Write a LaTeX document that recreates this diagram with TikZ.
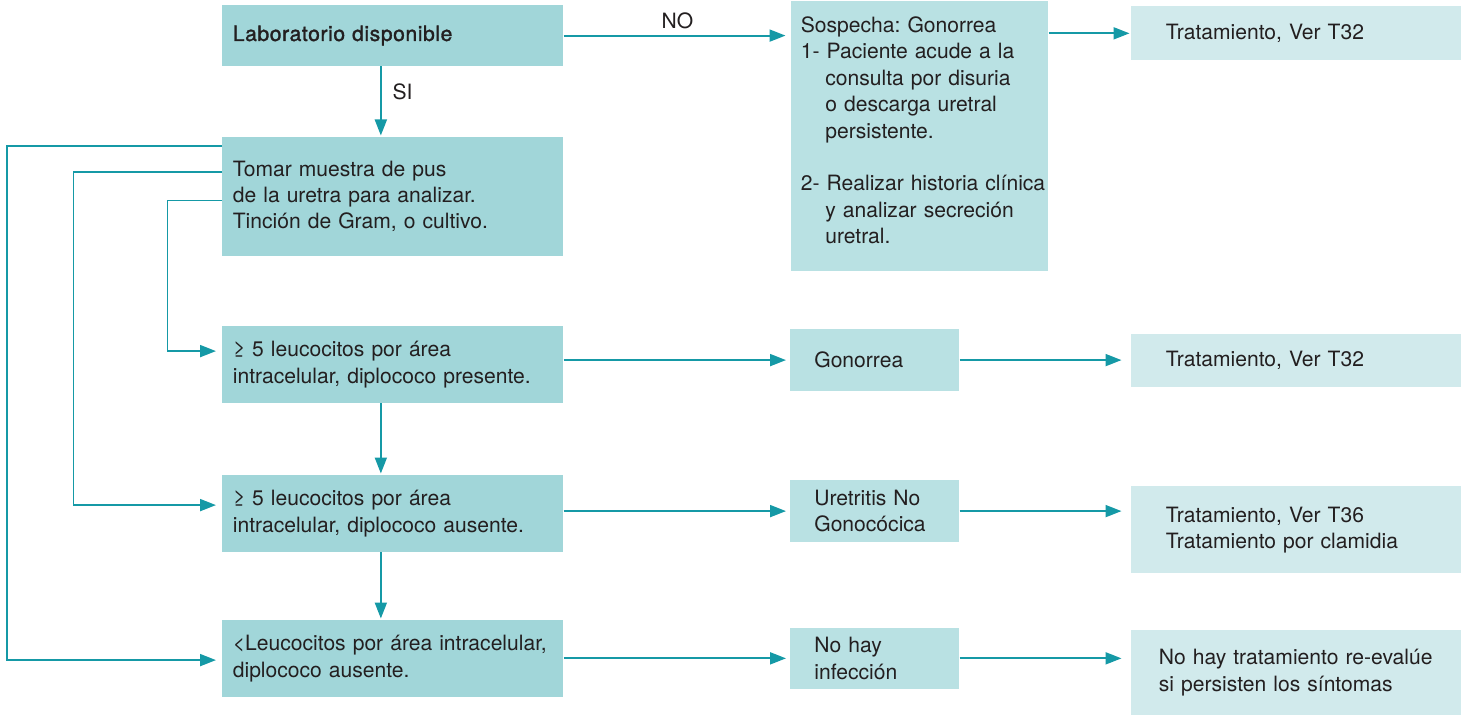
\documentclass[tikz,border=0pt]{standalone}
\usepackage{fontspec}
\setmainfont{TeX Gyre Heros}
\newfontfamily\ugheavy[FakeBold=1.5, LetterSpace=2.8]{TeX Gyre Heros}
\usetikzlibrary{arrows.meta}
\definecolor{ugdark}{HTML}{A1D6D9}
\definecolor{ugmid}{HTML}{B9E1E3}
\definecolor{uglight}{HTML}{D1EAEC}
\definecolor{ugline}{HTML}{1599A6}
\definecolor{ugtext}{HTML}{231F20}
\frenchspacing
\begin{document}
\begin{tikzpicture}[
  ugbox/.style = {anchor=north west, inner ysep=0pt, align=left, text=ugtext,
    font=\fontsize{12}{15}\selectfont},
  ugleft/.style = {ugbox, fill=ugdark, inner xsep=0.21cm, text width=6.40cm, minimum height=#1},
  ugmidbox/.style = {ugbox, fill=ugmid, inner xsep=0.48cm, text width=2.42cm, minimum height=#1},
  ugright/.style = {ugbox, fill=uglight, inner xsep=0.70cm, text width=5.21cm, minimum height=#1},
  ugarrow/.style = {-{Triangle[length=0.32cm, width=0.24cm]}, line width=1.1pt, ugline, shorten >=#1},
  ugarrow/.default = 0.1cm,
  uglbl/.style = {text=ugtext, font=\fontsize{12}{15}\selectfont}
]
  \useasboundingbox (0,0) rectangle (29.22,-14.30);
  % columna izquierda
  \node[ugleft=1.21cm] (lab) at (4.44,-0.10) {\ugheavy Laboratorio disponible};
  \node[ugleft=2.38cm] (tomar) at (4.44,-2.73)
    {Tomar muestra de pus\\de la uretra para analizar.\\Tinción de Gram, o cultivo.};
  \node[ugleft=1.53cm] (pres) at (4.44,-6.52)
    {≥ 5 leucocitos por área\\intracelular, diplococo presente.};
  \node[ugleft=1.53cm] (aus) at (4.44,-9.50)
    {≥ 5 leucocitos por área\\intracelular, diplococo ausente.};
  \node[ugleft=1.53cm] (menos) at (4.44,-12.40)
    {<Leucocitos por área intracelular,\\diplococo ausente.};
  % columna central
  \node[ugbox, fill=ugmid, inner xsep=0.19cm, text width=4.76cm, minimum height=5.40cm] (sosp) at (15.82,-0.02)
    {Sospecha: Gonorrea\\
     1- Paciente acude a la\\
     \hspace*{0.49cm}consulta por disuria\\
     \hspace*{0.49cm}o descarga uretral\\
     \hspace*{0.49cm}persistente.\\[15pt]
     \mbox{2- Realizar historia clínica}\\
     \hspace*{0.49cm}y analizar secreción\\
     \hspace*{0.49cm}uretral.\\[-8pt]\mbox{}};
  \node[ugmidbox=1.23cm] (gon) at (15.80,-6.58) {Gonorrea};
  \node[ugmidbox=1.23cm] (uret) at (15.80,-9.60) {Uretritis No\\Gonocócica};
  \node[ugmidbox=1.22cm] (inf) at (15.80,-12.55) {No hay\\infección};
  % columna derecha
  \node[ugright=1.08cm] (t32a) at (22.61,-0.12) {Tratamiento, Ver T32};
  \node[ugright=1.07cm] (t32b) at (22.61,-6.67) {Tratamiento, Ver T32};
  \node[ugright=1.74cm] (t36) at (22.61,-9.72) {Tratamiento, Ver T36\\Tratamiento por clamidia};
  \node[ugright=1.71cm, inner xsep=0.56cm, text width=5.49cm] (notrat) at (22.61,-12.59)
    {No hay tratamiento re-evalúe\\si persisten los síntomas};
  % NO / SI
  \draw[ugarrow=0.11cm] (lab.east) -- (lab.east -| sosp.west)
    node[midway, above, uglbl] {NO};
  \draw[ugarrow=0.02cm] ([xshift=-0.24cm]lab.south) -- ([xshift=-0.24cm]tomar.north)
    node[pos=0.36, right, xshift=0.1cm, uglbl] {SI};
  \draw[ugarrow=0.02cm] (t32a.west -| sosp.east) -- (t32a.west);
  % lazos desde la muestra
  \foreach \dy/\len/\tgt/\ty in {0.19/4.30/menos/-0.03, 0.71/2.97/aus/0.17, 1.28/1.09/pres/0.27}
    \draw[ugarrow=0.12cm] ([yshift=-\dy cm]tomar.north west) -- ++(-\len,0) |- ([yshift=\ty cm]\tgt.west);
  % flechas verticales
  \draw[ugarrow=0.03cm] ([xshift=-0.24cm]pres.south) -- ([xshift=-0.24cm]aus.north);
  \draw[ugarrow=0.03cm] ([xshift=-0.24cm]aus.south) -- ([xshift=-0.24cm]menos.north);
  % resultados
  \draw[ugarrow=0.08cm] (pres.east |- gon.west) -- (gon.west);
  \draw[ugarrow=0.18cm] (gon.east) -- (gon.east -| t32b.west);
  \draw[ugarrow=0.08cm] (aus.east |- uret.west) -- (uret.west);
  \draw[ugarrow=0.18cm] (uret.east) -- (uret.east -| t36.west);
  \draw[ugarrow=0.08cm] (menos.east |- inf.west) -- (inf.west);
  \draw[ugarrow=0.18cm] (inf.east) -- (inf.east -| notrat.west);
\end{tikzpicture}
\end{document}
